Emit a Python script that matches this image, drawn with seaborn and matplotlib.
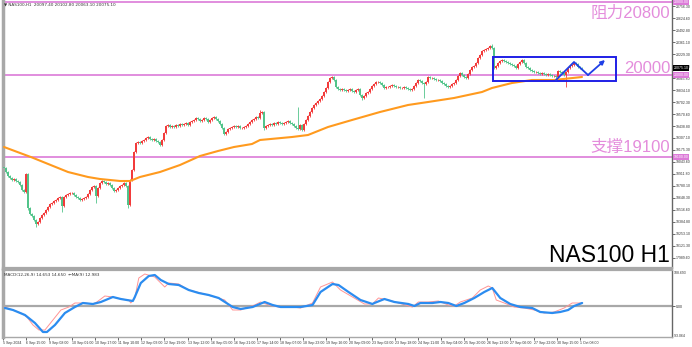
import numpy as np
import pandas as pd
import matplotlib
matplotlib.use("Agg")
import matplotlib.pyplot as plt
import matplotlib.transforms as mtransforms
from matplotlib.patches import Rectangle
import seaborn as sns

# ---------------- data ----------------
closes = [
    18977, 18933, 18889, 18867, 18845, 18856, 18834, 18823, 18790, 18735,
    18713, 18911, 18537, 18471, 18449, 18405, 18361, 18383, 18427, 18460,
    18482, 18515, 18548, 18581, 18592, 18614, 18625, 18647, 18658, 18559,
    18658, 18680, 18691, 18702, 18702, 18680, 18658, 18647, 18625, 18636,
    18647, 18658, 18691, 18735, 18768, 18779, 18669, 18757, 18812, 18834,
    18823, 18801, 18812, 18790, 18757, 18724, 18735, 18757, 18779, 18790,
    18812, 18779, 18570, 18845, 18955, 19153, 19252, 19263, 19252, 19274,
    19285, 19307, 19318, 19296, 19285, 19296, 19274, 19263, 19230, 19285,
    19362, 19439, 19450, 19428, 19439, 19428, 19450, 19439, 19461, 19450,
    19461, 19472, 19450, 19483, 19494, 19505, 19527, 19516, 19494, 19505,
    19527, 19516, 19483, 19505, 19527, 19538, 19516, 19494, 19461, 19417,
    19351, 19373, 19406, 19417, 19428, 19439, 19428, 19439, 19417, 19417,
    19428, 19439, 19461, 19483, 19505, 19516, 19538, 19527, 19582, 19593,
    19417, 19439, 19450, 19461, 19450, 19472, 19461, 19483, 19472, 19461,
    19472, 19483, 19494, 19472, 19461, 19439, 19417, 19406, 19450, 19395,
    19461, 19505, 19549, 19593, 19637, 19670, 19692, 19714, 19736, 19769,
    19813, 19857, 19923, 19967, 19978, 19945, 19868, 19846, 19835, 19846,
    19835, 19824, 19835, 19846, 19824, 19813, 19835, 19846, 19780, 19747,
    19769, 19802, 19813, 19846, 19879, 19901, 19923, 19923, 19912, 19890,
    19857, 19868, 19868, 19879, 19890, 19879, 19868, 19868, 19857, 19857,
    19868, 19857, 19846, 19835, 19846, 19879, 19912, 19945, 19934, 19912,
    19901, 19923, 19978, 19967, 19967, 19956, 19945, 19945, 19934, 19912,
    19901, 19879, 19868, 19879, 19901, 19912, 19945, 19989, 20022, 20000,
    19978, 19967, 20011, 20055, 20088, 20099, 20132, 20187, 20220, 20264,
    20275, 20286, 20297, 20319, 20297, 20077, 20099, 20132, 20154, 20165,
    20154, 20143, 20132, 20121, 20110, 20099, 20077, 20121, 20143, 20165,
    20132, 20088, 20077, 20055, 20044, 20033, 20033, 20022, 20011, 20022,
    20011, 20000, 20011, 20000, 19989, 19989, 19978, 20044, 20033, 20022,
    20000, 20033, 20077, 20099, 20110, 20132, 20121, 20088, 20077, 20075,
]
first_open = 18990
spike_high = {11: 18925, 128: 19610, 147: 19648, 244: 20341}
spike_low = {12: 18520, 16: 18330, 29: 18493, 46: 18592, 62: 18537,
             130: 19390, 179: 19725, 210: 19748, 281: 19868}

ma_bars = [0, 14, 24, 32, 42, 48, 58, 63, 68, 78, 88, 98, 107, 115, 124, 128,
           144, 152, 162, 174, 188, 202, 212, 225, 239, 244, 254, 264, 275, 289]
ma_vals = [19208, 19093, 19004, 18933, 18878, 18856, 18834, 18834, 18878, 18933,
           19010, 19109, 19164, 19208, 19241, 19285, 19318, 19340, 19428, 19505,
           19593, 19670, 19703, 19747, 19813, 19857, 19912, 19945, 19945, 19978]

signal_bars = [0, 4, 10, 15, 19, 21, 25, 30, 35, 39, 44, 48, 54, 58, 64, 65, 68, 72,
               75, 78, 82, 87, 92, 97, 102, 107, 114, 118, 124, 130, 134, 138, 144,
               148, 154, 158, 164, 167, 172, 178, 184, 185, 190, 195, 202, 205, 208,
               214, 218, 222, 226, 230, 235, 240, 244, 248, 253, 258, 264, 268, 274,
               278, 282, 285, 289]
signal_vals = [-6, -12, -27, -51, -78, -78, -57, -21, -3, 9, 6, 12, 27, 21, 15, 27,
               69, 90, 93, 78, 66, 63, 48, 39, 33, 24, -3, -9, -3, 12, 3, -3, -3,
               -3, 3, 42, 66, 63, 42, 18, 6, 9, 21, 12, 6, 0, 9, 9, 12, 9, 0, 9, 24,
               42, 54, 24, 6, -3, -6, -18, -21, -18, -12, 0, 9]
macd_bars = [0, 4, 8, 11, 14, 17, 20, 24, 28, 32, 35, 40, 44, 46, 50, 54, 58, 62, 63,
             65, 67, 70, 75, 80, 82, 87, 92, 98, 105, 110, 114, 118, 125, 128, 132,
             137, 144, 148, 154, 158, 164, 168, 174, 180, 184, 187, 192, 197, 204,
             207, 212, 217, 222, 225, 228, 234, 238, 242, 244, 246, 250, 255, 260,
             265, 270, 275, 280, 284, 289]
macd_vals = [-3, -12, -21, -33, -57, -72, -72, -42, -12, -3, 9, 9, 6, 12, 30, 27, 21,
             18, 9, 24, 84, 96, 87, 57, 69, 66, 48, 39, 27, 18, -12, -12, 3, 12, 3,
             -3, -3, -6, 9, 57, 72, 48, 27, 6, 6, 24, 18, 9, -3, 12, 12, 15, 3, 0,
             12, 24, 48, 60, 54, 18, 9, -3, -6, -12, -21, -18, -6, 9, 9]

levels = [20800, 20000, 19100]
level_texts = ["阻力20800", "20000", "支撑19100"]
level_text_y = [20632, 20025, 19156]

box_bars = [244.5, 306]
box_prices = [19934, 20198]
arrow_bars = [276, 285, 292, 300.5]
arrow_prices = [19945, 20143, 20000, 20165]

price_ticks = [20756.30, 20624.60, 20492.80, 20361.10, 20229.30, 20097.60, 19965.80,
               19834.10, 19702.30, 19570.60, 19438.80, 19307.10, 19175.30, 19043.60,
               18911.80, 18780.10, 18648.30, 18516.60, 18384.80, 18253.10, 18121.30,
               17989.60]
date_labels = ["5 Sep 2024", "6 Sep 15:00", "9 Sep 08:00", "10 Sep 01:00", "10 Sep 17:00",
               "11 Sep 10:00", "12 Sep 03:00", "12 Sep 19:00", "13 Sep 12:00",
               "16 Sep 05:00", "16 Sep 21:00", "17 Sep 14:00", "18 Sep 07:00",
               "18 Sep 23:00", "19 Sep 16:00", "20 Sep 09:00", "23 Sep 02:00",
               "23 Sep 18:00", "24 Sep 11:00", "25 Sep 04:00", "25 Sep 20:00",
               "26 Sep 13:00", "27 Sep 06:00", "27 Sep 22:00", "30 Sep 15:00",
               "1 Oct 08:00"]
header = "▼ NAS100,H1  20097.40 20102.80 20063.10 20075.10"
macd_header = "MACD(12,26,9) 14.653 14.650  ←MA(9) 12.983"

# ---------------- build OHLC ----------------
n = len(closes)
opens = [first_open] + closes[:-1]
wick = 10
highs = [spike_high.get(i, max(o, c) + wick) for i, (o, c) in enumerate(zip(opens, closes))]
lows = [spike_low.get(i, min(o, c) - wick) for i, (o, c) in enumerate(zip(opens, closes))]
df = pd.DataFrame({"bar": np.arange(n), "open": opens, "close": closes,
                   "high": highs, "low": lows})
UP, DOWN = "#f23b3b", "#52c48a"
df["color"] = np.where(df["close"] >= df["open"], UP, DOWN)
df["body_lo"] = df[["open", "close"]].min(axis=1)
df["body_h"] = (df["close"] - df["open"]).abs().clip(lower=4)

# ---------------- figure ----------------
sns.set_style("white")
plt.rcParams["font.family"] = ["Liberation Sans", "Noto Sans CJK SC", "DejaVu Sans"]
PINK_LINE = "#dc7ad8"
PINK_TEXT = "#e48ddc"
GRAY = "#a8a8a8"

W, H = 692, 347
fig = plt.figure(figsize=(W / 100, H / 100), dpi=100)
fig.patch.set_facecolor("white")
ax = fig.add_axes([3 / W, 1 - 268 / H, 669 / W, 268 / H])
ax2 = fig.add_axes([3 / W, 1 - 337 / H, 669 / W, 67 / H])

xmin, xmax = -0.5, 334
ax.set_xlim(xmin, xmax)
ax.set_ylim(17877, 20825)
ax2.set_xlim(xmin, xmax)
ax2.set_ylim(-93, 108)

# candles
ax.vlines(df["bar"], df["low"], df["high"], colors=df["color"], lw=0.6, zorder=2)
ax.bar(df["bar"], df["body_h"], bottom=df["body_lo"], width=0.8,
       color=df["color"], linewidth=0, zorder=3)

# moving average
sns.lineplot(x=ma_bars, y=ma_vals, ax=ax, color="#ff9a1e", lw=1.5, zorder=4,
             estimator=None, sort=False)

# levels
for lv in levels:
    ax.axhline(lv, color=PINK_LINE, lw=1.2, zorder=1)
blend = mtransforms.blended_transform_factory(ax.transAxes, ax.transData)
for txt, ty in zip(level_texts, level_text_y):
    ax.text(0.9975, ty, txt, transform=blend, ha="right", va="baseline",
            fontsize=12, color=PINK_TEXT, zorder=6)
ax.text(0.9975, 17946, "NAS100 H1", transform=blend, ha="right", va="baseline",
        fontsize=16.5, color="black", zorder=6)

# box + arrow
ax.add_patch(Rectangle((box_bars[0], box_prices[0]), box_bars[1] - box_bars[0],
                       box_prices[1] - box_prices[0], fill=False,
                       edgecolor="#1f1fe6", lw=1.4, zorder=5))
ax.plot(arrow_bars[:-1], arrow_prices[:-1], color="#1f3fe6", lw=1.3, zorder=5)
ax.annotate("", xy=(arrow_bars[-1], arrow_prices[-1]),
            xytext=(arrow_bars[-2], arrow_prices[-2]),
            arrowprops=dict(arrowstyle="-|>", color="#1f3fe6", lw=1.3,
                            mutation_scale=6, shrinkA=0, shrinkB=0), zorder=5)

# right price axis
ax.yaxis.tick_right()
ax.set_yticks(price_ticks)
ax.set_yticklabels([f"{v:.2f}" for v in price_ticks])
ax.tick_params(axis="y", right=True, length=2, width=0.5, labelsize=2.5,
               pad=1, colors="#333333")
ax.set_xticks([])
for lv in levels:
    ax.text(1.002, lv, f"{lv:.2f}", transform=blend, ha="left", va="center",
            fontsize=2.5, color="white",
            bbox=dict(boxstyle="square,pad=0.2", fc=PINK_LINE, ec="none"))
ax.text(1.002, closes[-1], f"{closes[-1] + 0.1:.2f}", transform=blend, ha="left",
        va="center", fontsize=2.5, color="white",
        bbox=dict(boxstyle="square,pad=0.2", fc="black", ec="none"))
ax.text(0.002, 0.992, header, transform=ax.transAxes, ha="left", va="top",
        fontsize=3, color="#333333", family=["DejaVu Sans"])

# MACD
ax2.axhline(0, color=GRAY, lw=1.6, zorder=1)
sns.lineplot(x=macd_bars, y=macd_vals, ax=ax2, color="#ff9494", lw=0.7,
             estimator=None, sort=False, zorder=3)
sns.lineplot(x=signal_bars, y=signal_vals, ax=ax2, color="#2b8cf0", lw=1.6,
             estimator=None, sort=False, zorder=4)
ax2.text(0.002, 0.96, macd_header, transform=ax2.transAxes, ha="left", va="top",
         fontsize=3, color="#333333", family=["DejaVu Sans"])
ax2.yaxis.tick_right()
ax2.set_yticks([0])
ax2.set_yticklabels(["0.00"])
ax2.tick_params(axis="y", right=True, length=2, width=0.5, labelsize=2.5, pad=1)
b2 = mtransforms.blended_transform_factory(ax2.transAxes, ax2.transData)
ax2.text(1.003, 100, "108.693", transform=b2, ha="left", va="center", fontsize=2.5,
         color="#333333")
ax2.text(1.003, -90, "-93.064", transform=b2, ha="left", va="center", fontsize=2.5,
         color="#333333")
tick_pos = np.arange(len(date_labels)) * 11.55 - 1
ax2.set_xticks(tick_pos)
ax2.set_xticklabels(date_labels, ha="left", fontsize=2.6, color="#333333")
ax2.tick_params(axis="x", bottom=True, length=2, width=0.5, pad=1)

for a in (ax, ax2):
    a.set_xlabel("")
    a.set_ylabel("")
    for s in a.spines.values():
        s.set_color(GRAY)
        s.set_linewidth(1.0)
ax.spines["bottom"].set_linewidth(1.6)
ax2.spines["top"].set_linewidth(1.6)
ax.spines["left"].set_linewidth(2.5)
ax2.spines["left"].set_linewidth(2.5)
ax.spines["top"].set_visible(False)
ax.spines["right"].set_color("#666666")
ax2.spines["right"].set_color("#666666")

fig.savefig("out.png", dpi=100)
